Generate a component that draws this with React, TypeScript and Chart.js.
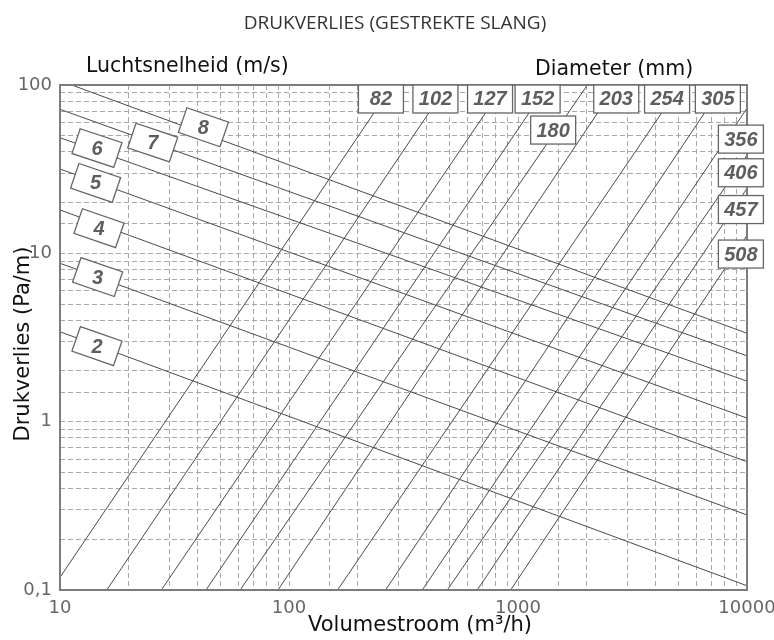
import React, { useEffect, useRef } from 'react';
import { Chart, registerables } from 'chart.js';

Chart.register(...registerables);

// Velocity lines (m/s): endpoints
const velocityLabels = ['2', '3', '4', '5', '6', '7', '8'];
const velocityStartX = [10, 10, 10, 10, 10, 10, 11.25];
const velocityStartY = [3.42, 8.73, 18.1, 31.7, 48.6, 71.7, 100];
const velocityEndX = [10000, 10000, 10000, 10000, 10000, 10000, 10000];
const velocityEndY = [0.106, 0.279, 0.578, 1.05, 1.74, 2.46, 3.35];
const velocityLabelX = [14.5, 14.6, 14.8, 14.3, 14.5, 25.4, 42.3];
const velocityLabelY = [2.81, 7.23, 14.1, 26.2, 42.2, 45.5, 56.1];

// Diameter lines (mm)
const diameterLabels = ['82', '102', '127', '152', '180', '203', '254', '305', '356', '406', '457', '508'];
const diameterStartX = [10, 16.0, 27.7, 43.4, 61.2, 89.5, 163, 264, 382, 491, 664, 929];
const diameterStartY = [0.119, 0.1, 0.1, 0.1, 0.1, 0.1, 0.1, 0.1, 0.1, 0.1, 0.1, 0.1];
const diameterEndX = [284, 493, 873, 1352, 2009, 2687, 5130, 7870, 10000, 10000, 10000, 10000];
const diameterEndY = [100, 100, 100, 100, 100, 100, 100, 100, 72.7, 38.2, 24.3, 12.8];
const diameterLabelX = [252, 436, 755, 1218, 1424, 2685, 4477, 7460, 9404, 9404, 9404, 9404];
const diameterLabelY = [82.6, 82.6, 82.6, 82.6, 54.0, 82.6, 82.6, 82.6, 47.7, 30.1, 18.2, 9.9];

// Axis ranges and texts
const xMin = 10;
const xMax = 10000;
const yMin = 0.1;
const yMax = 100;
const chartTitle = 'DRUKVERLIES (GESTREKTE SLANG)';
const velocityTitle = 'Luchtsnelheid (m/s)';
const diameterTitle = 'Diameter (mm)';
const xTitle = 'Volumestroom (m³/h)';
const yTitle = 'Drukverlies (Pa/m)';

const LINE_COLOR = '#4a4a4a';
const LABEL_COLOR = '#5e5e5e';
const GRID_COLOR = '#a8a8a8';

const isDecade = (v: number) => {
  const l = Math.log10(v);
  return Math.abs(l - Math.round(l)) < 1e-6;
};

const overlayPlugin = {
  id: 'overlay',
  afterDraw(chart: any) {
    const { ctx, chartArea: a, scales } = chart;
    const xs = scales.x;
    const ys = scales.y;
    ctx.save();

    // frame
    ctx.strokeStyle = '#7c7c7c';
    ctx.lineWidth = 2;
    ctx.strokeRect(a.left, a.top, a.right - a.left, a.bottom - a.top);

    const labelFont = 'italic bold 20px "Liberation Sans", Arial, sans-serif';

    // velocity labels (rotated boxes)
    velocityLabels.forEach((t, i) => {
      const cx = xs.getPixelForValue(velocityLabelX[i]);
      const cy = ys.getPixelForValue(velocityLabelY[i]);
      const ang = Math.atan2(
        ys.getPixelForValue(velocityEndY[i]) - ys.getPixelForValue(velocityStartY[i]),
        xs.getPixelForValue(velocityEndX[i]) - xs.getPixelForValue(velocityStartX[i])
      ) - 0.02;
      ctx.save();
      ctx.translate(cx, cy);
      ctx.rotate(ang);
      ctx.fillStyle = '#ffffff';
      ctx.fillRect(-22, -13, 44, 26);
      ctx.strokeStyle = '#666666';
      ctx.lineWidth = 1.3;
      ctx.strokeRect(-22, -13, 44, 26);
      ctx.restore();
      ctx.fillStyle = LABEL_COLOR;
      ctx.font = labelFont;
      ctx.textAlign = 'center';
      ctx.textBaseline = 'middle';
      ctx.fillText(t, cx, cy + 1);
    });

    // diameter labels
    diameterLabels.forEach((t, i) => {
      const cx = xs.getPixelForValue(diameterLabelX[i]);
      const cy = ys.getPixelForValue(diameterLabelY[i]);
      ctx.fillStyle = '#ffffff';
      ctx.fillRect(cx - 22.5, cy - 14, 45, 28);
      ctx.strokeStyle = '#666666';
      ctx.lineWidth = 1.3;
      ctx.strokeRect(cx - 22.5, cy - 14, 45, 28);
      ctx.fillStyle = LABEL_COLOR;
      ctx.font = labelFont;
      ctx.textAlign = 'center';
      ctx.textBaseline = 'middle';
      ctx.fillText(t, cx, cy + 1);
    });

    // titles
    ctx.fillStyle = '#333333';
    ctx.font = '19px "Open Sans", sans-serif';
    ctx.textAlign = 'center';
    ctx.textBaseline = 'alphabetic';
    ctx.fillText(chartTitle, 395, 29);

    ctx.fillStyle = '#111111';
    ctx.font = '20.5px "DejaVu Sans", Verdana, sans-serif';
    ctx.textAlign = 'left';
    ctx.fillText(velocityTitle, a.left + 26, 72);
    ctx.fillText(diameterTitle, 535, 75);

    ctx.font = '21px "DejaVu Sans", Verdana, sans-serif';
    ctx.textAlign = 'center';
    ctx.fillText(xTitle, 420, 631);

    ctx.save();
    ctx.translate(29, 344);
    ctx.rotate(-Math.PI / 2);
    ctx.fillText(yTitle, 0, 0);
    ctx.restore();

    ctx.restore();
  },
};

export default function App() {
  const canvasRef = useRef<HTMLCanvasElement | null>(null);

  useEffect(() => {
    if (!canvasRef.current) return;

    const datasets: any[] = [];
    velocityLabels.forEach((t, i) => {
      datasets.push({
        label: t + ' m/s',
        data: [
          { x: velocityStartX[i], y: velocityStartY[i] },
          { x: velocityEndX[i], y: velocityEndY[i] },
        ],
        showLine: true,
        borderColor: LINE_COLOR,
        borderWidth: 1,
        pointRadius: 0,
      });
    });
    diameterLabels.forEach((t, i) => {
      datasets.push({
        label: t + ' mm',
        data: [
          { x: diameterStartX[i], y: diameterStartY[i] },
          { x: diameterEndX[i], y: diameterEndY[i] },
        ],
        showLine: true,
        borderColor: LINE_COLOR,
        borderWidth: 1,
        pointRadius: 0,
      });
    });

    const tickFont = { family: '"DejaVu Sans", Verdana, sans-serif', size: 18 };

    const chart = new Chart(canvasRef.current, {
      type: 'scatter',
      data: { datasets },
      plugins: [overlayPlugin],
      options: {
        animation: false,
        responsive: false,
        devicePixelRatio: 1,
        layout: { padding: { top: 85, right: 27, left: 0, bottom: 0 } },
        plugins: {
          legend: { display: false },
          tooltip: { enabled: false },
        },
        scales: {
          x: {
            type: 'logarithmic',
            min: xMin,
            max: xMax,
            grid: { color: GRID_COLOR, lineWidth: 1, drawTicks: false },
            border: { display: false, dash: [5, 3] },
            ticks: {
              autoSkip: false,
              maxRotation: 0,
              padding: 8,
              color: '#666666',
              font: tickFont,
              callback: (v: any) => (isDecade(Number(v)) ? String(Number(v)) : ''),
            },
            afterFit: (s: any) => {
              s.height = 50;
              s.paddingLeft = 0;
              s.paddingRight = 0;
            },
          },
          y: {
            type: 'logarithmic',
            min: yMin,
            max: yMax,
            grid: { color: GRID_COLOR, lineWidth: 1, drawTicks: false },
            border: { display: false, dash: [5, 3] },
            ticks: {
              autoSkip: false,
              padding: 8,
              color: '#666666',
              font: tickFont,
              callback: (v: any) => {
                const n = Number(v);
                if (!isDecade(n)) return '';
                return n === 0.1 ? '0,1' : String(n);
              },
            },
            afterFit: (s: any) => {
              s.width = 60;
              s.paddingTop = 0;
              s.paddingBottom = 0;
            },
          },
        },
      } as any,
    });

    return () => chart.destroy();
  }, []);

  return (
    <div style={{ position: 'fixed', left: 0, top: 0, width: 774, height: 640, background: '#fff' }}>
      <canvas ref={canvasRef} width={774} height={640} style={{ display: 'block' }} />
    </div>
  );
}
